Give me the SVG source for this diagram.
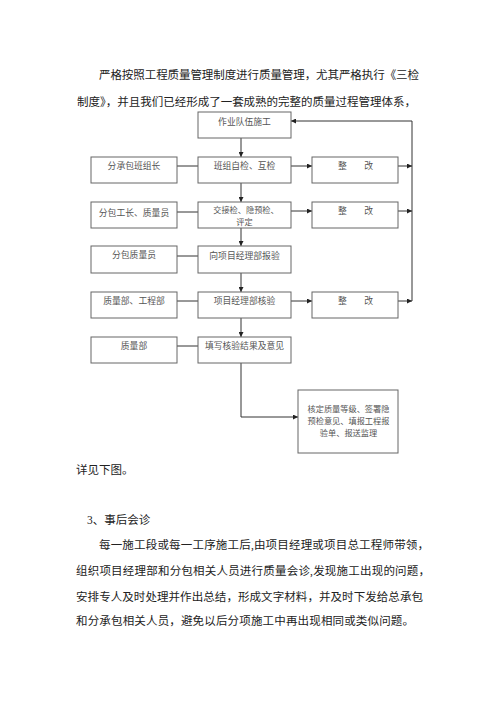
<svg xmlns="http://www.w3.org/2000/svg" width="500" height="707" viewBox="0 0 500 707">
<style>
.p{font-family:"Liberation Serif","Noto Sans CJK SC",serif;font-size:11.5px;fill:#222}
.t{font-family:"Noto Sans CJK SC",sans-serif;font-size:8.8px;fill:#555;text-anchor:middle}
.s{font-size:8.2px}
.b{fill:#fff;stroke:#666;stroke-width:1}
.c{fill:none;stroke:#333;stroke-width:1}
</style>
<defs>
<marker id="ah" viewBox="0 0 6 6" refX="6" refY="3" markerWidth="5" markerHeight="5" orient="auto" markerUnits="userSpaceOnUse">
<path d="M0,0 L6,3 L0,6 Z" fill="#222"/>
</marker>
</defs>
<rect width="500" height="707" fill="#fff"/>
<g id="text">
<text class="p" x="99" y="79" textLength="320" lengthAdjust="spacing">严格按照工程质量管理制度进行质量管理，尤其严格执行《三检</text>
<text class="p" x="77" y="106" textLength="339" lengthAdjust="spacing">制度》，并且我们已经形成了一套成熟的完整的质量过程管理体系，</text>
<text class="p" x="76" y="474">详见下图。</text>
<text class="p" x="87" y="524">3、事后会诊</text>
<text class="p" x="99" y="549" textLength="330" lengthAdjust="spacing">每一施工段或每一工序施工后,由项目经理或项目总工程师带领，</text>
<text class="p" x="76" y="575" textLength="354" lengthAdjust="spacing">组织项目经理部和分包相关人员进行质量会诊,发现施工出现的问题，</text>
<text class="p" x="76" y="601" textLength="347" lengthAdjust="spacing">安排专人及时处理并作出总结，形成文字材料，并及时下发给总承包</text>
<text class="p" x="76" y="625" textLength="338" lengthAdjust="spacing">和分承包相关人员，避免以后分项施工中再出现相同或类似问题。</text>
</g>
<g id="connectors">
<path class="c" d="M412,121 V301"/>
<path class="c" d="M412,121 H291" marker-end="url(#ah)"/>
<path class="c" d="M398,166 H412" marker-end="url(#ah)"/>
<path class="c" d="M398,211 H412" marker-end="url(#ah)"/>
<path class="c" d="M398,301 H412" marker-end="url(#ah)"/>
<path class="c" d="M291,166 H312" marker-end="url(#ah)"/>
<path class="c" d="M291,211 H312" marker-end="url(#ah)"/>
<path class="c" d="M291,301 H312" marker-end="url(#ah)"/>
<path class="c" d="M177,166 H198"/>
<path class="c" d="M177,212 H198"/>
<path class="c" d="M177,256 H198"/>
<path class="c" d="M177,301 H198"/>
<path class="c" d="M177,346 H198"/>
<path class="c" d="M241,138 V157" marker-end="url(#ah)"/>
<path class="c" d="M241,183 V202" marker-end="url(#ah)"/>
<path class="c" d="M241,228 V246" marker-end="url(#ah)"/>
<path class="c" d="M241,273 V292" marker-end="url(#ah)"/>
<path class="c" d="M241,318 V337" marker-end="url(#ah)"/>
<path class="c" d="M241,363 V417 H298" marker-end="url(#ah)"/>
</g>
<g id="n1"><rect class="b" x="198" y="112" width="93" height="26"/><text class="t" x="244.5" y="124.5">作业队伍施工</text></g>
<g id="n2"><rect class="b" x="198" y="157" width="93" height="26"/><text class="t" x="244.5" y="169">班组自检、互检</text></g>
<g id="n3"><rect class="b" x="198" y="202" width="93" height="26"/><text class="t s" x="246" y="213">交接检、隐预检、</text><text class="t s" x="244.5" y="225">评定</text></g>
<g id="n4"><rect class="b" x="198" y="246" width="93" height="27"/><text class="t" x="244.5" y="259">向项目经理部报验</text></g>
<g id="n5"><rect class="b" x="198" y="292" width="93" height="26"/><text class="t" x="244.5" y="304">项目经理部核验</text></g>
<g id="n6"><rect class="b" x="198" y="337" width="93" height="26"/><text class="t" x="244.5" y="349">填写核验结果及意见</text></g>
<g id="l1"><rect class="b" x="91" y="157" width="86" height="26"/><text class="t" x="134" y="169">分承包班组长</text></g>
<g id="l2"><rect class="b" x="91" y="202" width="86" height="26"/><text class="t" x="134" y="216">分包工长、质量员</text></g>
<g id="l3"><rect class="b" x="91" y="246" width="86" height="27"/><text class="t" x="134" y="258">分包质量员</text></g>
<g id="l4"><rect class="b" x="91" y="292" width="86" height="26"/><text class="t" x="134" y="304">质量部、工程部</text></g>
<g id="l5"><rect class="b" x="91" y="337" width="86" height="26"/><text class="t" x="134" y="349">质量部</text></g>
<g id="r1"><rect class="b" x="312" y="157" width="86" height="26"/><text class="t" x="355.5" y="169">整　　改</text></g>
<g id="r2"><rect class="b" x="312" y="202" width="86" height="26"/><text class="t" x="355.5" y="214">整　　改</text></g>
<g id="r3"><rect class="b" x="312" y="292" width="86" height="26"/><text class="t" x="355.5" y="304">整　　改</text></g>
<g id="f"><rect class="b" x="298" y="390" width="100" height="63"/>
<text class="t s" x="348.5" y="412">核定质量等级、签署隐</text>
<text class="t s" x="348.5" y="424">预检意见、填报工程报</text>
<text class="t s" x="348.5" y="436">验单、报送监理</text></g>
</svg>
